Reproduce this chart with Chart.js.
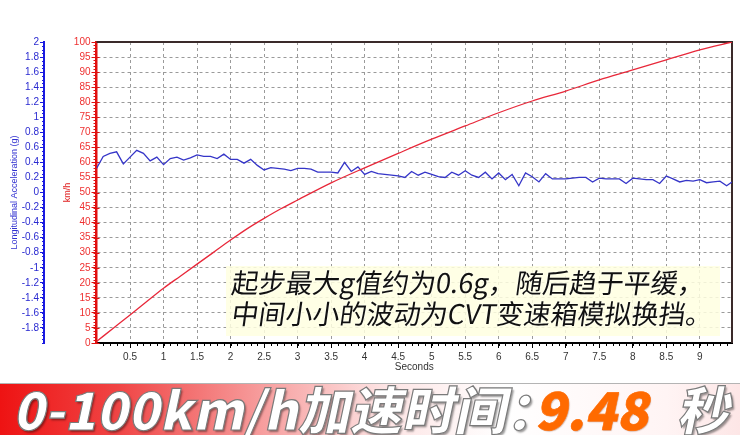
<!DOCTYPE html>
<html>
<head>
<meta charset="utf-8">
<script src="https://cdn.jsdelivr.net/npm/chart.js@4.4.1/dist/chart.umd.min.js"></script>
<style>
  html, body { margin: 0; padding: 0; background: #fff; }
  #wrap { position: relative; width: 740px; height: 435px; overflow: hidden; }
  #chart { position: absolute; left: 0; top: 0; }
  #note {
    position: absolute; left: 226px; top: 266px; width: 494px; height: 70px;
    background: rgba(255, 255, 225, 0.85);
    font-family: "Noto Sans CJK SC", sans-serif; font-size: 27px; line-height: 31px; color: #111;
    text-shadow: 0 0 2px #fff;
  }
  #note div { transform: skewX(-8deg); transform-origin: left bottom; padding-left: 4px; white-space: nowrap; }
  #banner {
    position: absolute; left: 0; top: 383px; width: 740px; height: 52px;
    border-top: 1px solid #b4b4b4;
    background: linear-gradient(to right, #ee1313 0%, #f04545 16%, #f7a0a0 36%, #fde4e4 52%, #ffffff 68%, #fff4f4 90%, #fde6e6 100%);
  }
  .big {
    position: absolute; top: -2px; white-space: nowrap;
    font-family: "Noto Sans CJK SC", sans-serif; font-weight: 900; font-size: 52px; line-height: 52px;
    transform: skewX(-12deg); transform-origin: left bottom;
  }
  .white { color: #fff; -webkit-text-stroke: 1.2px #7a7a7a; text-shadow: 2px 2px 2px rgba(0, 0, 0, 0.4); }
  .orange { color: #ff6a00; -webkit-text-stroke: 0.6px #ff6a00; text-shadow: 1px 1px 1px rgba(120, 40, 0, 0.3); }
</style>
</head>
<body>
<div id="wrap">
  <canvas id="chart" width="740" height="383"></canvas>
  <div id="note">
    <div>起步最大g值约为0.6g，随后趋于平缓，</div>
    <div>中间小小的波动为CVT变速箱模拟换挡。</div>
  </div>
  <div id="banner">
    <span class="big white" style="left: 12px;">0-100km/h加速时间：</span>
    <span class="big orange" style="left: 534px;">9.48</span>
    <span class="big white" style="left: 676px;">秒</span>
  </div>
</div>
<script>
  // speed trace (km/h)
  const speedTimes = [0, 0.25, 0.5, 0.75, 1, 1.25, 1.5, 1.75, 2, 2.25, 2.5, 2.75, 3, 3.5, 4, 4.5, 5, 5.5, 6, 6.5, 7, 7.5, 8, 8.5, 9, 9.48];
  const speedValues = [0.5, 4.9, 9.3, 13.8, 18.2, 22.2, 26.2, 30.2, 34.2, 38.0, 41.4, 44.6, 47.5, 53.2, 58.2, 63.0, 67.7, 72.1, 76.5, 80.4, 83.7, 87.4, 90.7, 94.1, 97.4, 100];

  // longitudinal acceleration (g)
  const accelTimes = [
    0, 0.1, 0.2, 0.3, 0.4, 0.5, 0.6, 0.7, 0.8, 0.9,
    1, 1.1, 1.2, 1.3, 1.4, 1.5, 1.6, 1.7, 1.8, 1.9,
    2, 2.1, 2.2, 2.3, 2.4, 2.5, 2.6, 2.7, 2.8, 2.9,
    3, 3.1, 3.2, 3.3, 3.4, 3.5, 3.6, 3.7, 3.8, 3.9,
    4, 4.1, 4.2, 4.3, 4.4, 4.5, 4.6, 4.7, 4.8, 4.9,
    5, 5.1, 5.2, 5.3, 5.4, 5.5, 5.6, 5.7, 5.8, 5.9,
    6, 6.1, 6.2, 6.3, 6.4, 6.5, 6.6, 6.7, 6.8, 6.9,
    7, 7.1, 7.2, 7.3, 7.4, 7.5, 7.6, 7.7, 7.8, 7.9,
    8, 8.1, 8.2, 8.3, 8.4, 8.5, 8.6, 8.7, 8.8, 8.9,
    9, 9.1, 9.2, 9.3, 9.4, 9.48
  ];
  const accelValues = [
    0.32, 0.48, 0.52, 0.54, 0.38, 0.47, 0.56, 0.52, 0.42, 0.47,
    0.37, 0.45, 0.47, 0.43, 0.46, 0.50, 0.48, 0.48, 0.45, 0.51,
    0.44, 0.44, 0.39, 0.44, 0.36, 0.30, 0.33, 0.32, 0.31, 0.29,
    0.32, 0.32, 0.31, 0.27, 0.27, 0.27, 0.26, 0.40, 0.28, 0.34,
    0.24, 0.28, 0.25, 0.24, 0.23, 0.22, 0.20, 0.28, 0.23, 0.27,
    0.24, 0.21, 0.20, 0.27, 0.23, 0.29, 0.23, 0.20, 0.27, 0.18,
    0.26, 0.17, 0.24, 0.09, 0.26, 0.21, 0.14, 0.25, 0.18, 0.18,
    0.18, 0.19, 0.20, 0.20, 0.14, 0.19, 0.18, 0.18, 0.18, 0.12,
    0.19, 0.18, 0.17, 0.17, 0.12, 0.22, 0.18, 0.14, 0.16, 0.15,
    0.17, 0.13, 0.14, 0.15, 0.09, 0.14
  ];

  const timeTicks = [0.5, 1, 1.5, 2, 2.5, 3, 3.5, 4, 4.5, 5, 5.5, 6, 6.5, 7, 7.5, 8, 8.5, 9];
  const speedTicks = [0, 5, 10, 15, 20, 25, 30, 35, 40, 45, 50, 55, 60, 65, 70, 75, 80, 85, 90, 95, 100];
  const accelTicks = [-1.8, -1.6, -1.4, -1.2, -1, -0.8, -0.6, -0.4, -0.2, 0, 0.2, 0.4, 0.6, 0.8, 1, 1.2, 1.4, 1.6, 1.8, 2];

  const RED = "#e01010";
  const BLUE = "#1a1ae0";
  const labelFont = { family: "Liberation Sans, Arial, sans-serif", size: 10 };

  function useTicks(list) {
    return (scale) => {
      scale.ticks = list.map((value) => ({ value }));
    };
  }

  // plain labels: "1" not "1.0"
  const plainLabel = (value) => String(value);

  // frame edges and the small minor ticks the original plot has
  const framePlugin = {
    id: "frame",
    beforeDatasetsDraw(chart) {
      const { ctx, chartArea: a, scales } = chart;
      ctx.save();
      ctx.lineWidth = 1;

      ctx.strokeStyle = "#000";
      ctx.beginPath();
      for (let v = 0.1; v < scales.x.max; v += 0.1) {
        const px = Math.round(scales.x.getPixelForValue(v)) + 0.5;
        ctx.moveTo(px, a.bottom);
        ctx.lineTo(px, a.bottom + 3);
      }
      ctx.stroke();

      ctx.strokeStyle = RED;
      ctx.beginPath();
      for (let v = 1; v < 100; v += 1) {
        const py = Math.round(scales.ySpeed.getPixelForValue(v)) + 0.5;
        ctx.moveTo(a.left - 3, py);
        ctx.lineTo(a.left, py);
      }
      speedTicks.forEach((v) => {
        const py = Math.round(scales.ySpeed.getPixelForValue(v)) + 0.5;
        ctx.moveTo(a.left, py);
        ctx.lineTo(a.left + 3, py);
      });
      ctx.stroke();

      const yA = scales.yAccel;
      ctx.strokeStyle = BLUE;
      ctx.beginPath();
      for (let v = -2; v < 2; v += 0.05) {
        const py = Math.round(yA.getPixelForValue(v)) + 0.5;
        ctx.moveTo(yA.right - 2, py);
        ctx.lineTo(yA.right + 1, py);
      }
      ctx.stroke();

      ctx.strokeStyle = "#3a2a2a";
      ctx.lineWidth = 2;
      ctx.beginPath();
      ctx.moveTo(a.left, a.top);
      ctx.lineTo(a.right, a.top);
      ctx.lineTo(a.right, a.bottom);
      ctx.stroke();
      ctx.restore();
    },
  };

  new Chart(document.getElementById("chart"), {
    type: "line",
    data: {
      datasets: [
        {
          label: "km/h",
          data: speedTimes.map((t, i) => ({ x: t, y: speedValues[i] })),
          yAxisID: "ySpeed",
          borderColor: "#e8283a",
          borderWidth: 1.3,
          pointRadius: 0,
          cubicInterpolationMode: "monotone",
        },
        {
          label: "Longitudinal Acceleration (g)",
          data: accelTimes.map((t, i) => ({ x: t, y: accelValues[i] })),
          yAxisID: "yAccel",
          borderColor: "#3535c8",
          borderWidth: 1.3,
          pointRadius: 0,
          tension: 0,
        },
      ],
    },
    options: {
      responsive: false,
      animation: false,
      devicePixelRatio: 1,
      layout: { padding: { top: 42, right: 8, bottom: 0, left: 0 } },
      plugins: { legend: { display: false }, tooltip: { enabled: false } },
      scales: {
        x: {
          type: "linear",
          min: 0,
          max: 9.48,
          afterBuildTicks: useTicks(timeTicks),
          afterFit: (scale) => { scale.height = 40; },
          grid: { color: "#9a9a9a", lineWidth: 1, tickColor: "#000", tickLength: 5 },
          border: { color: "#000", width: 2, dash: [3, 3] },
          ticks: { color: "#333", font: labelFont, padding: 3, maxRotation: 0, autoSkip: false, callback: plainLabel },
          title: { display: true, text: "Seconds", color: "#333", font: labelFont, padding: { top: 0, bottom: 10 } },
        },
        ySpeed: {
          type: "linear",
          position: "left",
          weight: 1,
          min: 0,
          max: 100,
          afterBuildTicks: useTicks(speedTicks),
          afterFit: (scale) => { scale.width = 52.5; },
          grid: { color: "#9a9a9a", lineWidth: 1, tickColor: RED, tickLength: 5 },
          border: { color: RED, width: 2.5, dash: [3, 3] },
          ticks: { color: "#ee3030", font: labelFont, padding: 1, autoSkip: false, callback: plainLabel },
          title: { display: true, text: "km/h", color: "#e02020", font: { family: labelFont.family, size: 9 }, padding: { top: 18, bottom: 0 } },
        },
        yAccel: {
          type: "linear",
          position: "left",
          weight: 2,
          min: -2,
          max: 2,
          afterBuildTicks: useTicks(accelTicks),
          afterFit: (scale) => { scale.width = 44; },
          grid: { drawOnChartArea: false, tickColor: BLUE, tickLength: 4 },
          border: { color: BLUE, width: 2 },
          ticks: { color: "#2a2ad0", font: labelFont, padding: 1, autoSkip: false, callback: plainLabel },
          title: { display: true, text: "Longitudinal Acceleration (g)", color: "#3030d0", font: { family: labelFont.family, size: 9 }, padding: { top: 9, bottom: 0 } },
        },
      },
    },
    plugins: [framePlugin],
  });
</script>
</body>
</html>
